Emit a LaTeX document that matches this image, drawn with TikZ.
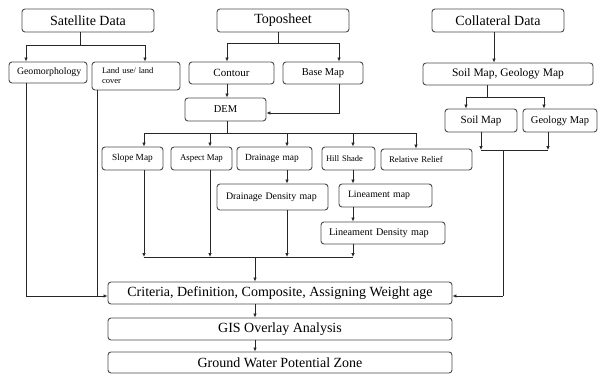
\documentclass[tikz,border=0pt]{standalone}
\usepackage{fontspec}
\setmainfont{Liberation Serif}
\usetikzlibrary{arrows.meta}
\newcommand{\fs}[1]{\fontsize{#1}{#1}\selectfont}
\begin{document}
\begin{tikzpicture}[x=1pt,y=-1pt,
  box/.style={draw=black!70,line width=0.9pt,rounded corners=3pt,inner sep=2pt,fill=white},
  big/.style={box,font=\fs{14}},
  lft/.style={align=left,inner xsep=#1},
  ln/.style={line width=0.7pt,black!85},
  arr/.style={ln,-{Latex[length=4pt,width=3.5pt]}}]
\useasboundingbox (0,0) rectangle (600,375);
% top row
\node[big,minimum width=132,minimum height=23] (sat) at (88,20.5) {Satellite Data};
\node[big,minimum width=132,minimum height=23] (topo) at (283,20.5) {Toposheet};
\node[big,minimum width=132,minimum height=23] (coll) at (498,20.5) {Collateral Data};
% second row
\node[box,font=\fs{9.8},minimum height=21,lft=8,text width=62] (geo) at (48,72.5) {Geomorphology};
\node[box,font=\fontsize{8.5}{10}\selectfont,minimum height=28,lft=10,text width=68] (land) at (136,76) {Land use/ land\\cover};
\node[box,font=\fs{11},minimum width=85,minimum height=22] (cont) at (231.5,73) {Contour};
\node[box,font=\fs{10.5},minimum width=80,minimum height=22] (base) at (323,73) {Base Map};
\node[box,font=\fs{10.5},minimum width=81,minimum height=23] (dem) at (225.5,109.5) {DEM};
\node[box,font=\fs{11.5},minimum width=170,minimum height=22] (sg) at (508,74) {Soil Map, Geology Map};
\node[box,font=\fs{11},minimum width=72,minimum height=23] (soil) at (481,120.5) {Soil Map};
\node[box,font=\fs{10.5},minimum width=74,minimum height=23] (geol) at (560,120.5) {Geology Map};
% third row
\node[box,font=\fs{9.3},minimum width=61,minimum height=23] (slope) at (132.5,158.5) {Slope Map};
\node[box,font=\fs{8.8},minimum width=61,minimum height=23] (asp) at (201.5,158.5) {Aspect Map};
\node[box,font=\fs{9.4},minimum height=23,lft=8,text width=59] (drain) at (274.5,158.5) {Drainage map};
\node[box,font=\fs{8.5},minimum height=23,lft=4,text width=45] (hill) at (348.5,158.5) {Hill Shade};
\node[box,font=\fs{8.8},minimum height=21,lft=8,text width=75] (rel) at (426.5,159.5) {Relative Relief};
\node[box,font=\fs{9.9},minimum height=26,lft=9,text width=93] (dd) at (272.5,197) {Drainage Density map};
\node[box,font=\fs{9.8},minimum height=23,lft=9,text width=75] (lin) at (385.5,195.5) {Lineament map};
\node[box,font=\fs{10.2},minimum height=22,lft=8,text width=108] (ld) at (383,233) {Lineament Density map};
% bottom
\node[big,minimum width=344,minimum height=22] (crit) at (280,293) {Criteria, Definition, Composite, Assigning Weight age};
\node[big,minimum width=344,minimum height=22] (gis) at (280,329) {GIS Overlay Analysis};
\node[big,minimum width=344,minimum height=21] (gw) at (280,362.5) {Ground Water Potential Zone};
% helper coordinates
\coordinate (xa) at (26,0);
\coordinate (xb) at (145,0);
\coordinate (xc) at (97,0);
\coordinate (xd) at (227,0);
\coordinate (xe) at (339,0);
\coordinate (xm) at (255,0);
\coordinate (xr) at (503,0);
\coordinate (jsat) at (80,45);
\coordinate (jtopo) at (278,43);
\coordinate (jdem) at (227,133);
\coordinate (jsg) at (487,97);
\coordinate (jsoil) at (514.5,150);
\coordinate (jmerge) at (255,257);
\coordinate (jleft) at (26,296);
\coordinate (jright) at (503,296);
% satellite
\draw[ln] (sat.south -| jsat) -- (jsat);
\draw[arr] (jsat) -| (xa |- geo.north);
\draw[arr] (jsat) -| (xb |- land.north);
\draw[ln] (xa |- geo.south) -- (jleft);
\draw[ln] (xc |- land.south) -- (xc |- jleft);
\draw[arr] (jleft) -- (crit.west |- jleft);
% toposheet
\draw[ln] (topo.south -| jtopo) -- (jtopo);
\draw[arr] (jtopo) -| (xd |- cont.north);
\draw[arr] (jtopo) -| (xe |- base.north);
\draw[arr] (xd |- cont.south) -- (xd |- dem.north);
\draw[arr] (xe |- base.south) |- (dem.east |- 0,113);
% DEM
\draw[ln] (xd |- dem.south) -- (jdem);
\coordinate (x1) at (144,0);
\coordinate (x2) at (210,0);
\coordinate (x3) at (287,0);
\coordinate (x4) at (353,0);
\coordinate (x5) at (416,0);
\draw[ln] (x1 |- jdem) -- (x5 |- jdem);
\draw[arr] (x1 |- jdem) -- (x1 |- slope.north);
\draw[arr] (x2 |- jdem) -- (x2 |- asp.north);
\draw[arr] (x3 |- jdem) -- (x3 |- drain.north);
\draw[arr] (x4 |- jdem) -- (x4 |- hill.north);
\draw[arr] (x5 |- jdem) -- (x5 |- rel.north);
\draw[arr] (x3 |- drain.south) -- (x3 |- dd.north);
\draw[arr] (x4 |- hill.south) -- (x4 |- lin.north);
\draw[arr] (x4 |- lin.south) -- (x4 |- ld.north);
% merge
\draw[ln] (x1 |- jmerge) -- (x4 |- jmerge);
\draw[arr] (x1 |- slope.south) -- (x1 |- jmerge);
\draw[arr] (x2 |- asp.south) -- (x2 |- jmerge);
\draw[arr] (x3 |- dd.south) -- (x3 |- jmerge);
\draw[arr] (x4 |- ld.south) -- (x4 |- jmerge);
\draw[arr] (jmerge) -- (xm |- crit.north);
\draw[arr] (xm |- crit.south) -- (xm |- gis.north);
\draw[arr] (xm |- gis.south) -- (xm |- gw.north);
% collateral
\coordinate (xs) at (494,0);
\coordinate (xso) at (466,0);
\coordinate (xge) at (544,0);
\coordinate (xso2) at (481,0);
\coordinate (xge2) at (548,0);
\draw[arr] (xs |- coll.south) -- (xs |- sg.north);
\draw[ln] (sg.south -| jsg) -- (jsg);
\draw[arr] (jsg) -| (xso |- soil.north);
\draw[arr] (jsg) -| (xge |- geol.north);
\draw[ln] (xso2 |- jsoil) -- (xge2 |- jsoil);
\draw[arr] (xso2 |- soil.south) -- (xso2 |- jsoil);
\draw[arr] (xge2 |- geol.south) -- (xge2 |- jsoil);
\draw[ln] (xr |- jsoil) -- (jright);
\draw[arr] (jright) -- (crit.east |- jright);
\end{tikzpicture}
\end{document}
